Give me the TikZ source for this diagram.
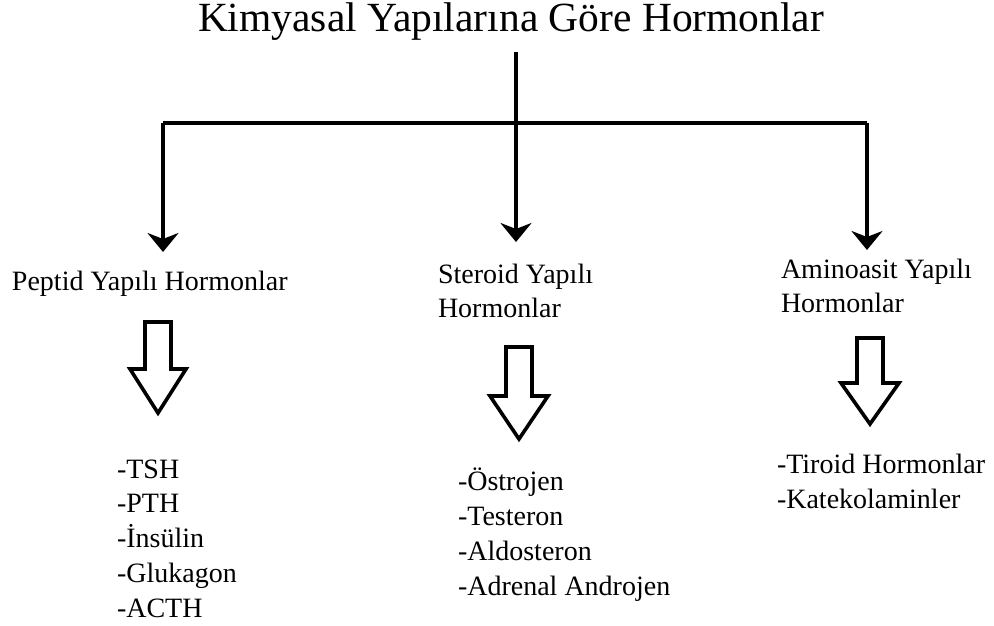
\documentclass[tikz,border=0pt]{standalone}
\usepackage{fontspec}
\setmainfont{Liberation Serif}
\usetikzlibrary{arrows.meta}

\tikzset{
  headfont/.style={font=\fontsize{41.5}{48}\selectfont},
  labelfont/.style={font=\fontsize{28}{34}\selectfont},
  listfont/.style={font=\fontsize{28}{34.7}\selectfont},
  % multi-line nodes: the base anchor sits on the last line
  txt/.style={inner sep=0pt, outer sep=0pt, anchor=base west, align=left, text=black},
  link/.style={line width=3.8pt, line cap=butt},
  linkarrow/.style={link, -{Stealth[length=19pt, width=31pt, inset=6pt]}},
  hollow/.style={draw=black, fill=white, line width=3.6pt, line join=miter},
}

\begin{document}
\begin{tikzpicture}[x=1pt, y=-1pt]
  \useasboundingbox[fill=white] (0,0) rectangle (994,626);

  % heading
  \node[txt, headfont] (title) at (198,32) {Kimyasal Yapılarına Göre Hormonlar};

  % branch points
  \coordinate (stem) at (516,52);
  \coordinate (hub)  at (516,123);
  \coordinate (cornerL) at (163,123);
  \coordinate (cornerR) at (867,123);
  \coordinate (tipL) at (163,252);
  \coordinate (tipM) at (516,242);
  \coordinate (tipR) at (867,250);

  % group labels
  \node[txt, labelfont] (peptid) at (12,290) {Peptid Yapılı Hormonlar};
  \node[txt, labelfont] (steroid) at (438,317) {Steroid Yapılı\\Hormonlar};
  \node[txt, labelfont] (amino) at (781,312) {Aminoasit Yapılı\\Hormonlar};

  % tree connectors
  \draw[link] (cornerL) -- (cornerR);
  \draw[linkarrow] (stem) -- (tipM);
  \draw[linkarrow] (cornerL) -- (tipL);
  \draw[linkarrow] (cornerR) -- (tipR);

  % hollow block arrows
  \draw[hollow] (145,322) -- (171,322) -- (171,369) -- (186,369) -- (158,413)
    -- (130,369) -- (145,369) -- cycle;
  \draw[hollow] (506,347) -- (532,347) -- (532,396) -- (548,396) -- (519,439)
    -- (490,396) -- (506,396) -- cycle;
  \draw[hollow] (857,338) -- (883,338) -- (883,383) -- (899,383) -- (870,424)
    -- (841,383) -- (857,383) -- cycle;

  % member lists
  \node[txt, listfont] (peplist) at (117,617)
    {-TSH\\-PTH\\-İnsülin\\-Glukagon\\-ACTH};
  \node[txt, listfont] (sterlist) at (458,595)
    {-Östrojen\\-Testeron\\-Aldosteron\\-Adrenal Androjen};
  \node[txt, listfont] (aminolist) at (777,508)
    {-Tiroid Hormonlar\\-Katekolaminler};
\end{tikzpicture}
\end{document}
